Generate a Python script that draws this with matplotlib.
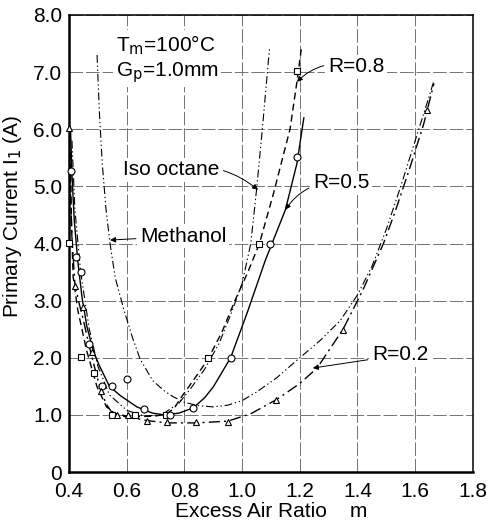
import matplotlib
matplotlib.use("Agg")
import matplotlib.pyplot as plt

plt.rcParams["font.family"] = ["Liberation Sans", "DejaVu Sans"]

# measured points (excess air ratio m, primary current A)
sq_m = [0.400, 0.440, 0.488, 0.549, 0.629, 0.736, 0.880, 1.058, 1.190]
sq_i = [4.01, 2.01, 1.74, 1.00, 1.00, 1.00, 2.00, 4.00, 7.02]
ci_m = [0.407, 0.424, 0.440, 0.470, 0.514, 0.549, 0.600, 0.660, 0.750, 0.830, 0.960, 1.097, 1.190]
ci_i = [5.27, 3.76, 3.50, 2.24, 1.50, 1.50, 1.63, 1.10, 1.00, 1.12, 2.00, 4.00, 5.52]
tr_m = [0.400, 0.420, 0.448, 0.480, 0.510, 0.566, 0.605, 0.670, 0.740, 0.840, 0.950, 1.117, 1.350, 1.640]
tr_i = [6.02, 3.25, 2.89, 2.10, 1.41, 1.00, 1.00, 0.90, 0.87, 0.88, 0.88, 1.26, 2.49, 6.34]

# fitted curves
r08_m = [0.405, 0.408, 0.414, 0.430, 0.460, 0.497, 0.530, 0.560, 0.600, 0.650, 0.700, 0.740,
         0.765, 0.785, 0.830, 0.880, 0.930, 0.975, 1.020, 1.060, 1.110, 1.166, 1.190, 1.205]
r08_i = [5.60, 4.40, 3.42, 2.84, 2.14, 1.49, 1.14, 1.02, 0.98, 0.97, 0.98, 1.02,
         1.12, 1.28, 1.60, 1.96, 2.45, 3.00, 3.50, 4.00, 4.90, 6.00, 6.83, 7.40]
r05_m = [0.405, 0.410, 0.418, 0.430, 0.445, 0.462, 0.485, 0.507, 0.540, 0.577, 0.635, 0.690,
         0.730, 0.780, 0.830, 0.870, 0.900, 0.960, 1.017, 1.080, 1.150, 1.190, 1.214]
r05_i = [6.00, 5.20, 4.40, 3.70, 3.05, 2.54, 2.10, 1.84, 1.50, 1.34, 1.14, 1.03,
         1.00, 1.03, 1.12, 1.30, 1.49, 2.00, 2.78, 3.70, 4.59, 5.40, 6.20]
r02_m = [0.400, 0.404, 0.410, 0.420, 0.435, 0.450, 0.470, 0.490, 0.510, 0.530, 0.550, 0.580,
         0.620, 0.670, 0.740, 0.840, 0.950, 1.030, 1.120, 1.200, 1.260, 1.350, 1.420, 1.490,
         1.530, 1.580, 1.630, 1.665]
r02_i = [6.00, 5.00, 4.10, 3.30, 2.95, 2.65, 2.20, 1.80, 1.42, 1.18, 1.03, 0.98,
         0.95, 0.90, 0.86, 0.86, 0.89, 1.02, 1.27, 1.55, 1.82, 2.50, 3.20, 4.00,
         4.55, 5.30, 6.10, 6.80]
meth_m = [0.497, 0.505, 0.515, 0.528, 0.542, 0.560, 0.590, 0.620, 0.646, 0.690, 0.730, 0.760,
          0.800, 0.850, 0.900, 0.950, 1.000, 1.050, 1.120, 1.200, 1.270, 1.340, 1.400, 1.450,
          1.500, 1.550, 1.600, 1.650, 1.665]
meth_i = [7.30, 6.30, 5.40, 4.60, 4.00, 3.40, 2.84, 2.35, 1.98, 1.60, 1.42, 1.32,
          1.22, 1.16, 1.14, 1.17, 1.25, 1.40, 1.65, 2.00, 2.30, 2.65, 3.10, 3.60,
          4.25, 5.00, 5.80, 6.60, 6.85]
iso_m = [0.410, 0.420, 0.440, 0.470, 0.500, 0.540, 0.600, 0.660, 0.720, 0.780, 0.820, 0.870,
         0.920, 0.960, 1.000, 1.030, 1.050, 1.070, 1.095]
iso_i = [5.80, 4.60, 3.50, 2.50, 1.85, 1.35, 1.08, 0.98, 1.00, 1.20, 1.45, 1.80,
         2.25, 2.75, 3.30, 4.00, 4.94, 6.00, 7.42]

x_ticks = [0.4, 0.6, 0.8, 1.0, 1.2, 1.4, 1.6, 1.8]
x_labels = ["0.4", "0.6", "0.8", "1.0", "1.2", "1.4", "1.6", "1.8"]
y_ticks = [0, 1, 2, 3, 4, 5, 6, 7, 8]
y_labels = ["0", "1.0", "2.0", "3.0", "4.0", "5.0", "6.0", "7.0", "8.0"]

fig = plt.figure(figsize=(4.9, 5.3), dpi=100)
ax = fig.add_axes([0.141, 0.1094, 0.824, 0.8623])

dd = (0, (7, 2.5, 1.2, 2.5, 1.2, 2.5))
ax.plot(meth_m, meth_i, color="black", lw=0.8, linestyle=dd)
ax.plot(iso_m, iso_i, color="black", lw=0.8, linestyle=dd)
ax.plot(r08_m, r08_i, color="black", lw=1.0, linestyle=(0, (5, 3)))
ax.plot(r05_m, r05_i, color="black", lw=1.0, linestyle="-")
ax.plot(r02_m, r02_i, color="black", lw=1.0, linestyle=(0, (8, 3, 1.5, 3)))

mk = dict(linestyle="none", markerfacecolor="white", markeredgecolor="black",
          markeredgewidth=0.8, clip_on=False, zorder=5)
ax.plot(sq_m, sq_i, marker="s", markersize=4, **mk)
ax.plot(ci_m, ci_i, marker="o", markersize=5, **mk)
ax.plot(tr_m, tr_i, marker="^", markersize=5, **mk)

ax.set_xlim(0.4, 1.8)
ax.set_ylim(0, 8)
ax.set_xticks(x_ticks)
ax.set_xticklabels(x_labels)
ax.set_yticks(y_ticks)
ax.set_yticklabels(y_labels)
ax.tick_params(length=0, labelsize=15)
ax.tick_params(axis="x", pad=7)
ax.tick_params(axis="y", pad=5)
ax.grid(True, color="0.45", lw=0.7, linestyle=(0, (14, 3)))
ax.set_axisbelow(True)

for s in ["left", "bottom"]:
    ax.spines[s].set_linewidth(1.8)
for s in ["top", "right"]:
    ax.spines[s].set_linewidth(1.1)

ax.set_xlabel("Excess Air Ratio    m", fontsize=15, labelpad=1)
ax.set_ylabel("Primary Current I$_1$ (A)", fontsize=15)
ax.yaxis.set_label_coords(-0.112, 0.56)

wb = dict(facecolor="white", edgecolor="none", pad=2)
ax.text(0.735, 7.48, "T$_\\mathrm{m}$=100°C", fontsize=15, ha="center", va="center", bbox=wb)
ax.text(0.74, 7.0, "G$_\\mathrm{p}$=1.0mm", fontsize=15, ha="center", va="center", bbox=wb)

arr = dict(arrowstyle="-|>", color="black", lw=0.7, mutation_scale=8, shrinkA=1, shrinkB=0)
ax.annotate("Iso octane", xy=(1.055, 4.94), xytext=(0.587, 5.29), fontsize=15,
            ha="left", va="center", bbox=wb,
            arrowprops=dict(arr, connectionstyle="arc3,rad=-0.25"))
ax.annotate("Methanol", xy=(0.542, 4.06), xytext=(0.646, 4.13), fontsize=15,
            ha="left", va="center", bbox=wb, arrowprops=arr)
ax.annotate("R=0.8", xy=(1.19, 6.83), xytext=(1.297, 7.09), fontsize=15,
            ha="left", va="center", bbox=wb,
            arrowprops=dict(arr, connectionstyle="arc3,rad=0.3"))
ax.annotate("R=0.5", xy=(1.15, 4.59), xytext=(1.245, 5.06), fontsize=15,
            ha="left", va="center", bbox=wb,
            arrowprops=dict(arr, connectionstyle="arc3,rad=0.3"))
ax.annotate("R=0.2", xy=(1.245, 1.82), xytext=(1.45, 2.05), fontsize=15,
            ha="left", va="center", bbox=wb, arrowprops=arr)

fig.savefig("out.png", dpi=100)
